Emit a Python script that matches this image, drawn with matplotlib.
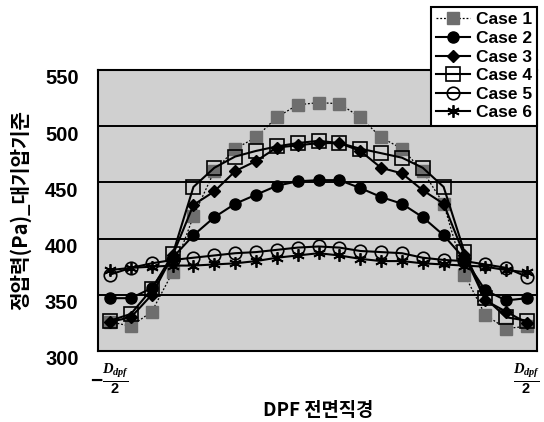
import matplotlib
matplotlib.use("Agg")
import matplotlib.pyplot as plt
from matplotlib.transforms import ScaledTranslation

plt.rcParams['font.family'] = ['Liberation Sans', 'Noto Sans CJK KR', 'DejaVu Sans']
plt.rcParams['mathtext.fontset'] = 'custom'
plt.rcParams['mathtext.it'] = 'Liberation Serif:italic:bold'
plt.rcParams['mathtext.rm'] = 'Liberation Sans:bold'

# position across the DPF face, as fraction of the diameter
pos = [-0.50, -0.45, -0.40, -0.35, -0.30, -0.25, -0.20, -0.15, -0.10, -0.05, 0.00,
       0.05, 0.10, 0.15, 0.20, 0.25, 0.30, 0.35, 0.40, 0.45, 0.50]

case1 = [326, 322, 335, 370, 420, 460, 480, 490, 508, 519, 521,
         520, 508, 490, 480, 460, 431, 368, 332, 320, 322]
case2 = [347, 347, 356, 383, 403, 419, 431, 439, 447, 451, 452,
         452, 445, 437, 431, 419, 403, 382, 354, 345, 347]
case3 = [326, 330, 350, 385, 430, 442, 460, 469, 481, 483, 485,
         485, 478, 463, 458, 443, 431, 385, 345, 335, 325]
case4 = [327, 333, 355, 386, 446, 463, 473, 478, 482, 485, 487,
         485, 480, 476, 472, 463, 446, 388, 347, 330, 327]
case5 = [368, 374, 378, 381, 383, 385, 387, 388, 390, 392, 393,
         392, 389, 388, 387, 383, 381, 380, 377, 374, 366]
case6 = [372, 374, 375, 376, 376, 377, 378, 380, 383, 385, 387,
         385, 382, 380, 380, 378, 377, 376, 375, 372, 370]

yticks = [300, 350, 400, 450, 500, 550]
xticks = [-0.5, 0.5]
xticklabels = [r'$-\frac{D_{dpf}}{2}$', r'$\frac{D_{dpf}}{2}$']

fig = plt.figure(figsize=(5.44, 4.22), dpi=100)
ax = fig.add_axes([98 / 544, 1 - 351 / 422, 439 / 544, 281 / 422])
ax.set_facecolor('#d0d0d0')

for v in [350, 400, 450, 500]:
    ax.axhline(v, color='black', lw=1.4, zorder=1)

ax.plot(pos, case1, color='black', lw=0.9, ls=(0, (1.5, 1.5)), marker='s', ms=8,
        mfc='#6e6e6e', mec='#6e6e6e', label='Case 1', zorder=3)
ax.plot(pos, case2, color='black', lw=1.5, marker='o', ms=8,
        mfc='black', mec='black', label='Case 2', zorder=4)
ax.plot(pos, case3, color='black', lw=1.5, marker='D', ms=6,
        mfc='black', mec='black', label='Case 3', zorder=4)
ax.plot(pos, case4, color='black', lw=1.5, marker='s', ms=10,
        mfc='none', mec='black', mew=1.2, label='Case 4', zorder=5)
ax.plot(pos, case5, color='black', lw=1.5, marker='o', ms=9,
        mfc='none', mec='black', mew=1.2, label='Case 5', zorder=4)
ax.plot(pos, case6, color='black', lw=1.5, marker=(6, 2, 0), ms=9,
        mec='black', mew=1.3, label='Case 6', zorder=4)

ax.set_xlim(-0.529, 0.524)
ax.set_ylim(300, 550)
ax.set_yticks(yticks)
ax.set_yticklabels([str(v) for v in yticks], fontsize=14.5, fontweight='bold')
ax.set_xticks(xticks)
ax.set_xticklabels(xticklabels, fontsize=15)
ax.tick_params(axis='both', length=0)
ax.tick_params(axis='y', pad=14)
ax.tick_params(axis='x', pad=8)

for lbl in ax.get_yticklabels():
    lbl.set_transform(lbl.get_transform() + ScaledTranslation(0, -5 / 72, fig.dpi_scale_trans))

for s in ax.spines.values():
    s.set_linewidth(1.5)
    s.set_color('black')

ax.set_ylabel('정압력(Pa)_대기압기준', family=['Noto Sans CJK KR', 'DejaVu Sans'],
              fontsize=14.5, fontweight='bold', labelpad=10)
fig.text(318 / 544, 1 - 410 / 422, 'DPF 전면직경', family=['Noto Sans CJK KR', 'DejaVu Sans'],
         fontsize=13.5, fontweight='bold', ha='center', va='center')

leg = ax.legend(loc='upper right', bbox_to_anchor=(537 / 544, 1 - 7 / 422),
                bbox_transform=fig.transFigure, fontsize=12.5, frameon=True,
                fancybox=False, edgecolor='black', framealpha=1,
                handlelength=2.0, handletextpad=0.3, borderpad=0.3,
                labelspacing=0.2, borderaxespad=0)
leg.get_frame().set_linewidth(1.5)
for t in leg.get_texts():
    t.set_fontweight('bold')
leg.set_zorder(10)

fig.savefig('out.png', dpi=100)
